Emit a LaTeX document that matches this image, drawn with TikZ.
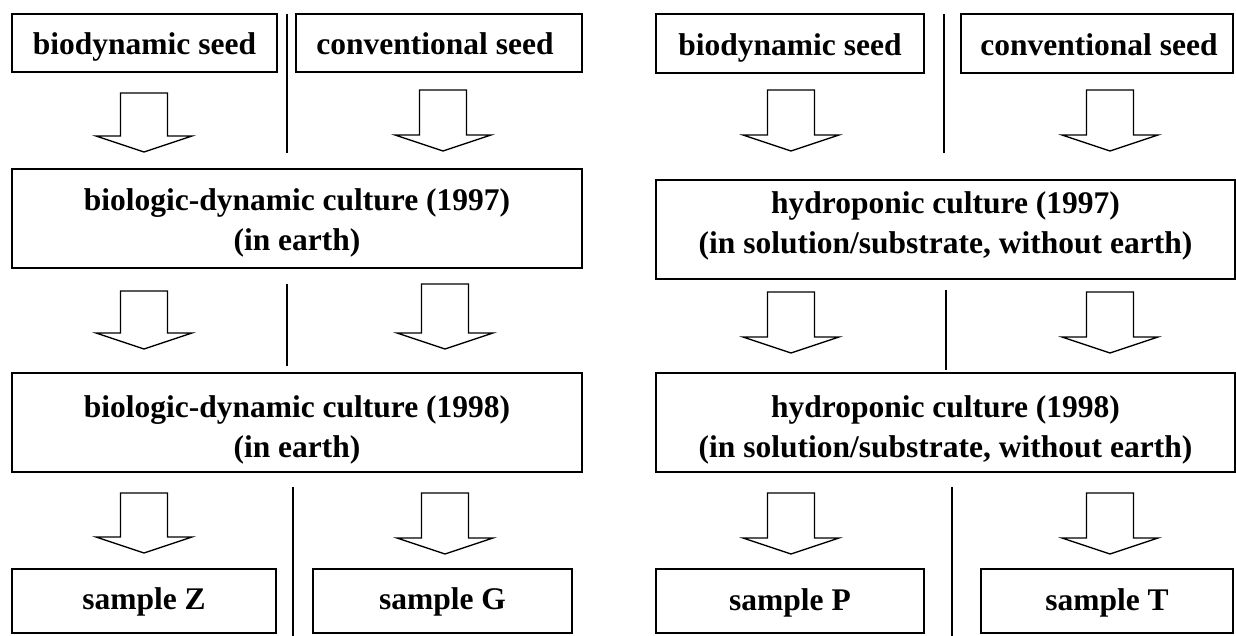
\documentclass[tikz,border=0pt]{standalone}
\usepackage{fontspec}
\setmainfont{Liberation Serif}
\newfontfamily\lblfont{Liberation Serif Bold}
\begin{document}
\begin{tikzpicture}[x=1pt,y=-1pt,
  box/.style={draw, line width=1.5pt, rectangle, inner sep=0pt, outer sep=0pt},
  txt/.style={font=\lblfont\fontsize{31.5}{40}\selectfont, inner sep=0pt, anchor=base},
  divider/.style={line width=1.4pt},
  barrow/.pic={\draw[line width=1.3pt, line join=miter]
     (-23.5,0) -- (-23.5,#1) -- (-48,#1) -- (0,#1+16) -- (48,#1) -- (23.5,#1) -- (23.5,0) -- cycle;}]
\useasboundingbox (0,0) rectangle (1236,636);

% ---------- left half ----------
\node[box, minimum width=265, minimum height=58] (bsL) at (144.5,43) {};
\node[txt] (bsLt) at (144.5,54.3) {biodynamic seed};
\node[box, minimum width=286, minimum height=58] (csL) at (439,43) {};
\node[txt] (csLt) at (435,54.3) {conventional seed};
\node[box, minimum width=570, minimum height=99] (c97) at (297,218.5) {};
\node[txt] (c97a) at (297,211) {biologic-dynamic culture (1997)};
\node[txt] (c97b) at (297,251) {(in earth)};
\node[box, minimum width=570, minimum height=99] (c98) at (297,422.5) {};
\node[txt] (c98a) at (297,417) {biologic-dynamic culture (1998)};
\node[txt] (c98b) at (297,457) {(in earth)};
\node[box, minimum width=264, minimum height=64] (sZ) at (144,601) {};
\node[txt] (sZt) at (144,609) {sample Z};
\node[box, minimum width=259, minimum height=64] (sG) at (442.5,601) {};
\node[txt] (sGt) at (442.5,609) {sample G};

\draw[divider] (287,14) -- (287,153);
\draw[divider] (287,284) -- (287,366);
\draw[divider] (293,487) -- (293,636);

\pic at (144,93) {barrow=43};
\pic at (443,90) {barrow=45};
\pic at (144,291) {barrow=42};
\pic at (445,284) {barrow=49};
\pic at (144,493) {barrow=44};
\pic at (445,493) {barrow=45};

% ---------- right half ----------
\node[box, minimum width=268, minimum height=59] (bsR) at (790,43.5) {};
\node[txt] (bsRt) at (790,56) {biodynamic seed};
\node[box, minimum width=272, minimum height=59] (csR) at (1097,43.5) {};
\node[txt] (csRt) at (1099,56) {conventional seed};
\node[box, minimum width=579, minimum height=99] (h97) at (945.5,229.5) {};
\node[txt] (h97a) at (945.5,214) {hydroponic culture (1997)};
\node[txt] (h97b) at (945.5,254) {(in solution/substrate, without earth)};
\node[box, minimum width=579, minimum height=99] (h98) at (945.5,422.5) {};
\node[txt] (h98a) at (945.5,417) {hydroponic culture (1998)};
\node[txt] (h98b) at (945.5,457) {(in solution/substrate, without earth)};
\node[box, minimum width=268, minimum height=64] (sP) at (790,601) {};
\node[txt] (sPt) at (790,610) {sample P};
\node[box, minimum width=252, minimum height=64] (sT) at (1107,601) {};
\node[txt] (sTt) at (1107,610) {sample T};

\draw[divider] (944,14) -- (944,153);
\draw[divider] (946,290) -- (946,370);
\draw[divider] (952,487) -- (952,636);

\pic at (791,90) {barrow=45};
\pic at (1110,90) {barrow=45};
\pic at (791,292) {barrow=45};
\pic at (1110,292) {barrow=45};
\pic at (791,493) {barrow=45};
\pic at (1110,493) {barrow=45};
\end{tikzpicture}
\end{document}
